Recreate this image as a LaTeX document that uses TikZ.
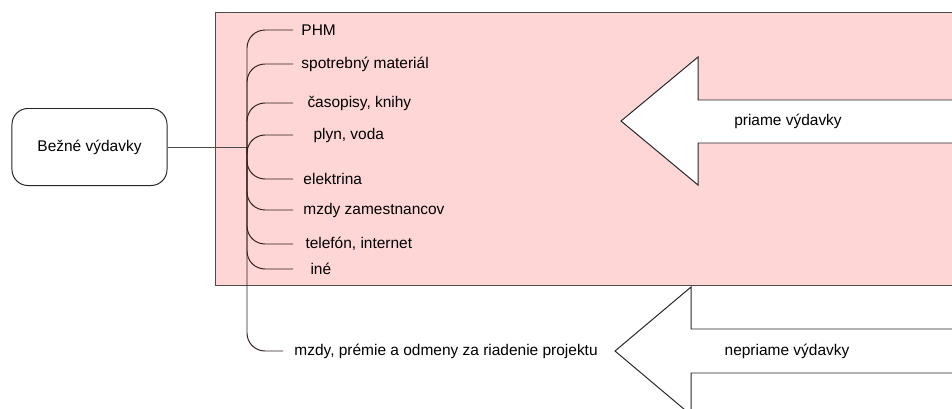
\documentclass[tikz,border=0pt]{standalone}
\usepackage{fontspec}
\setmainfont{Liberation Sans}
\usepackage{tikz}

\definecolor{ruzova}{RGB}{255,214,214}
\definecolor{ciara}{RGB}{50,30,30}

\begin{document}
\begin{tikzpicture}[x=0.025cm,y=-0.025cm,line width=0.7pt,
	font=\fontsize{11}{13}\selectfont,
	polozka/.style={anchor=west,inner sep=0pt,inner xsep=0.2cm},
	vetva/.style={draw=ciara,rounded corners=0.45cm},
	sipka/.style={draw=black!85,fill=white}]
	%\draw[help lines] (0,0) grid (952,408);
	\useasboundingbox (0,0) rectangle (952,408);
	\clip (0,0) rectangle (952,408);

	% ruzova plocha
	\fill[ruzova] (215,12) rectangle (952,285);
	\draw[black!70] (952,12) -- (215,12) -- (215,285) -- (952,285);

	% sipky
	\draw[sipka] (952,100) -- (698,100) -- (698,57) -- (621,121) -- (698,185) -- (698,143) -- (952,143);
	\node (priame) at (788,121) {priame výdavky};
	\draw[sipka] (952,329) -- (691,329) -- (691,287) -- (615,351) -- (691,415) -- (691,373) -- (952,373);
	\node (nepriame) at (787,351) {nepriame výdavky};

	\node[draw=black!85,rounded corners=0.4cm,minimum width=3.875cm,minimum height=1.925cm] (bezne) at (89.5,147) {Bežné výdavky};
	\coordinate (uzol) at (247,147);
	\draw[black!70] (bezne.east) -- (uzol);

	\node[polozka] (phm) at (293,30) {PHM};
	\node[polozka] (spotreba) at (293,64) {spotrebný materiál};
	\node[polozka] (casopisy) at (293,103) {\hspace{0.15cm}časopisy, knihy};
	\node[polozka] (plyn) at (293,135) {\hspace{0.3cm}plyn, voda};
	\node[polozka] (elektrina) at (293,179) {\hspace{0.05cm}elektrina};
	\node[polozka] (mzdy) at (293,210) {\hspace{0.05cm}mzdy zamestnancov};
	\node[polozka] (telefon) at (293,244) {\hspace{0.1cm}telefón, internet};
	\node[polozka] (ine) at (293,269) {\hspace{0.225cm}iné};
	\node[polozka] (odmeny) at (283,351) {\hspace{0.075cm}mzdy, prémie a odmeny za riadenie projektu};

	\draw[vetva] (uzol) |- (phm.west);
	\draw[vetva] (uzol) |- (spotreba.west);
	\draw[vetva] (uzol) |- (casopisy.west);
	\draw[vetva] (uzol) |- (plyn.west);
	\draw[vetva] (uzol) |- (elektrina.west);
	\draw[vetva] (uzol) |- (mzdy.west);
	\draw[vetva] (uzol) |- (telefon.west);
	\draw[vetva] (uzol) |- (ine.west);
	\draw[vetva] (uzol) |- (odmeny.west);

\end{tikzpicture}
\end{document}
